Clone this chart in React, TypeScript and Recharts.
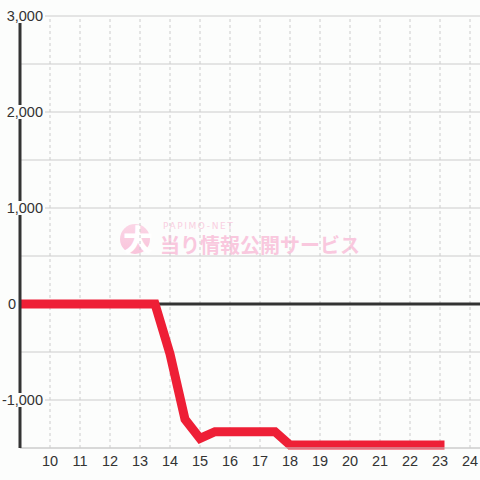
import React from "react";
import {
  LineChart,
  Line,
  XAxis,
  YAxis,
  CartesianGrid,
  ReferenceLine,
} from "recharts";

const hours = [
  9, 9.5, 10, 10.5, 11, 11.5, 12, 12.5, 13, 13.5, 14, 14.5, 15, 15.5, 16, 16.5,
  17, 17.5, 18, 18.5, 19, 19.5, 20, 20.5, 21, 21.5, 22, 22.5, 23,
];
const balance = [
  0, 0, 0, 0, 0, 0, 0, 0, 0, 0, -520, -1200, -1400, -1330, -1330, -1330,
  -1330, -1330, -1470, -1470, -1470, -1470, -1470, -1470, -1470, -1470, -1470,
  -1470, -1470,
];
const xTicks = [10, 11, 12, 13, 14, 15, 16, 17, 18, 19, 20, 21, 22, 23, 24];
const yTicks = [-1500, -1000, -500, 0, 500, 1000, 1500, 2000, 2500, 3000];

const data = hours.map((h, i) => ({ hour: h, value: balance[i] }));

const BG = "#fcfdfc";
const FONT = '"Liberation Sans", Arial, sans-serif';

function YTick(props: any) {
  const { y, payload } = props;
  const v = payload.value as number;
  if (v % 1000 !== 0) return <g />;
  const label = v.toLocaleString("en-US");
  if (v === 0) {
    return (
      <text x={16} y={y + 5} textAnchor="end" fill="#333" fontSize={14.5} fontFamily={FONT}>
        {label}
      </text>
    );
  }
  return (
    <g>
      <rect x={0} y={y - 7} width={45} height={14} fill={BG} />
      <text x={43} y={y + 5} textAnchor="end" fill="#333" fontSize={14.5} fontFamily={FONT}>
        {label}
      </text>
    </g>
  );
}

function Watermark() {
  return (
    <div style={{ position: "absolute", left: 0, top: 0, width: 480, height: 480 }}>
      <div
        style={{
          position: "absolute",
          left: 120,
          top: 224,
          width: 30,
          height: 30,
          borderRadius: "50%",
          background: "linear-gradient(180deg, #fbd6e6 0%, #f9c4db 100%)",
        }}
      />
      <div
        style={{
          position: "absolute",
          left: 123,
          top: 220,
          fontSize: 30,
          fontWeight: 900,
          lineHeight: "36px",
          color: "#ffffff",
          fontFamily: '"Noto Sans CJK JP", sans-serif',
        }}
      >
        大
      </div>
      <div
        style={{
          position: "absolute",
          left: 163,
          top: 220,
          fontSize: 9,
          lineHeight: "12px",
          letterSpacing: 1.6,
          color: "#f9cfe1",
          fontFamily: '"DejaVu Sans", sans-serif',
        }}
      >
        PAPIMO-NET
      </div>
      <div
        style={{
          position: "absolute",
          left: 160,
          top: 231,
          fontSize: 20,
          fontWeight: 700,
          lineHeight: "28px",
          color: "#f9c8de",
          fontFamily: '"Noto Sans CJK JP", sans-serif',
          whiteSpace: "nowrap",
        }}
      >
        当り情報公開サービス
      </div>
    </div>
  );
}

export default function App() {
  return (
    <div
      style={{
        position: "fixed",
        left: 0,
        top: 0,
        width: 480,
        height: 480,
        background: BG,
        overflow: "hidden",
      }}
    >
      <Watermark />
      <div style={{ position: "absolute", left: 0, top: 0 }}>
        <LineChart
          width={480}
          height={480}
          data={data}
          margin={{ top: 16, right: 0, bottom: 0, left: 0 }}
        >
          <CartesianGrid stroke="#cccccc" vertical={false} horizontalValues={yTicks} />
          {xTicks.map((t) => (
            <ReferenceLine key={t} x={t} stroke="#cccccc" strokeDasharray="3 3" />
          ))}
          <ReferenceLine y={0} stroke="#333333" strokeWidth={3} />
          <XAxis
            dataKey="hour"
            type="number"
            domain={[9, 24.3333]}
            ticks={xTicks}
            allowDataOverflow
            height={32}
            tickLine={false}
            axisLine={{ stroke: "#cccccc" }}
            tick={{ fill: "#333", fontSize: 14.5, fontFamily: FONT }}
          />
          <YAxis
            type="number"
            domain={[-1500, 3000]}
            ticks={yTicks}
            width={20}
            tickLine={false}
            axisLine={{ stroke: "#333333", strokeWidth: 3 }}
            tick={<YTick />}
          />
          <Line
            type="linear"
            dataKey="value"
            stroke="#ee1f36"
            strokeWidth={9}
            strokeLinecap="square"
            strokeLinejoin="miter"
            dot={false}
            activeDot={false}
            isAnimationActive={false}
          />
        </LineChart>
      </div>
    </div>
  );
}
